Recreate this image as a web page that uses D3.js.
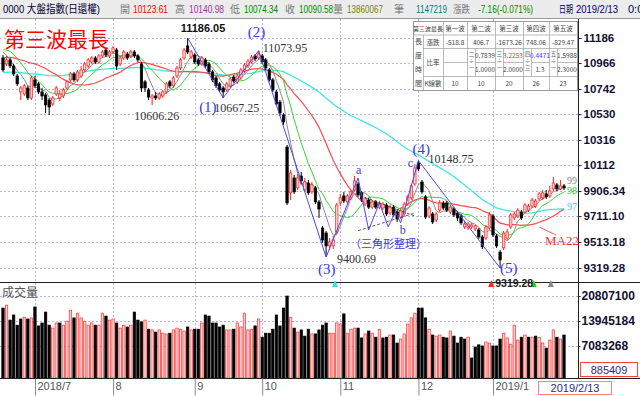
<!DOCTYPE html>
<html>
<head>
<meta charset="utf-8">
<script src="https://cdn.jsdelivr.net/npm/d3@7"></script>
<style>
body { margin: 0; background: #fff; }
svg { display: block; font-family: "Liberation Sans", "Noto Sans CJK TC", sans-serif; }
</style>
</head>
<body>
<svg id="chart" width="640" height="396"></svg>
<script>
// daily candles [open, high, low, close], 2018/6/19 .. 2019/1/30
var candles = [
  [11010,11036,10889,10906],[10958,11028,10940,10993],[10993,11010,10923,10940],[10940,10958,10854,10871],
  [10854,10871,10769,10786],[10717,10769,10649,10751],[10700,10786,10683,10769],[10751,10769,10649,10666],
  [10666,10854,10649,10837],[10820,10854,10751,10769],[10786,10803,10700,10717],[10717,10751,10649,10683],
  [10691,10708,10540,10607],[10649,10666,10523,10590],[10615,10683,10598,10666],[10700,10769,10683,10751],
  [10666,10734,10640,10700],[10683,10751,10666,10734],[10751,10820,10734,10803],[10820,10889,10803,10871],
  [10871,10889,10803,10820],[10820,10906,10803,10889],[10854,10940,10837,10906],[10906,10975,10889,10958],
  [10940,11010,10923,10993],[10975,11028,10958,11010],[11010,11028,10958,10975],[10975,11045,10958,11028],
  [11028,11080,11010,11063],[11080,11098,11019,11036],[11028,11080,11010,11063],[11063,11116,11045,11098],
  [11080,11098,10906,10940],[10958,11028,10940,11010],[11010,11080,10993,11063],[11045,11063,10993,11010],
  [11028,11080,11010,11063],[11063,11080,11010,11028],[11028,11045,10975,10993],[10958,10975,10717,10751],
  [10803,10820,10717,10751],[10734,10751,10649,10674],[10666,10700,10606.26,10683],[10683,10717,10649,10666],
  [10666,10717,10649,10700],[10683,10734,10666,10717],[10717,10803,10700,10786],[10803,10820,10751,10769],
  [10769,10854,10751,10837],[10854,10940,10837,10923],[10923,11010,10906,10993],[11010,11098,10993,11080],
  [11116,11186.05,11045,11063],[11019,11080,11001,11063],[11036,11054,10958,10975],[10993,11010,10940,10958],
  [10958,11028,10940,11010],[10993,11010,10923,10940],[10958,10975,10871,10889],[10889,10906,10803,10820],
  [10837,10854,10751,10769],[10786,10803,10717,10734],[10751,10769,10667.25,10717],[10734,10803,10717,10786],
  [10769,10845,10751,10828],[10845,10863,10794,10811],[10803,10871,10786,10854],[10837,10923,10820,10906],
  [10897,10966,10880,10949],[10940,11001,10923,10984],[10975,11036,10958,11019],[11028,11045,10984,11001],
  [11010,11073.95,10993,11045],[11028,11045,10958,10975],[10993,11010,10906,10923],[10906,10923,10803,10820],
  [10820,10837,10717,10734],[10717,10734,10598,10615],[10632,10649,10515,10540],[10523,10540,10440,10465],
  [10259,10275,9797,9813],[9892,10073,9836,10049],[10010,10033,9884,9900],[9931,10041,9915,10010],
  [10025,10057,9962,9986],[9915,10010,9900,9978],[9970,9994,9876,9892],[9900,9978,9884,9955],
  [9931,9947,9805,9821],[9821,9836,9697,9766],[9620,9636,9507,9529],[9582,9597,9400.69,9484],
  [9484,9544,9453,9514],[9484,9559,9461,9529],[9590,9813,9574,9797],[9813,9884,9789,9853],
  [9868,9900,9813,9829],[9821,9884,9805,9868],[9853,9915,9836,9900],[9915,10025,9900,9986],
  [9962,9978,9861,9876],[9892,9907,9821,9845],[9805,9861,9789,9845],[9836,9853,9766,9781],
  [9781,9836,9766,9821],[9821,9836,9766,9781],[9781,9829,9766,9813],[9774,9821,9758,9805],
  [9797,9813,9712,9728],[9735,9797,9720,9781],[9781,9797,9704,9720],[9743,9758,9666,9689],
  [9704,9766,9689,9751],[9728,9821,9712,9805],[9805,9876,9789,9861],[9853,9962,9836,9947],
  [9962,10122,9947,10090],[10130,10148.75,10065,10081],[9978,9994,9884,9900],[9861,9876,9689,9704],
  [9712,9789,9697,9774],[9728,9743,9651,9666],[9681,9743,9666,9728],[9758,9836,9743,9813],
  [9813,9829,9758,9774],[9813,9829,9743,9758],[9743,9797,9728,9781],[9766,9781,9704,9720],
  [9735,9751,9674,9697],[9712,9728,9643,9659],[9628,9674,9613,9651],[9620,9666,9605,9651],
  [9628,9659,9613,9643],[9613,9643,9597,9636],[9605,9620,9537,9552],[9552,9567,9461,9477],
  [9544,9643,9529,9628],[9620,9743,9605,9720],[9712,9728,9552,9567],[9559,9574,9469,9484],
  [9438,9453,9319.28,9379],[9469,9597,9453,9582],[9544,9613,9529,9590],[9628,9735,9613,9720],
  [9697,9743,9681,9728],[9712,9774,9697,9758],[9743,9758,9681,9697],[9743,9813,9728,9797],
  [9758,9805,9743,9789],[9789,9853,9774,9836],[9789,9845,9774,9829],[9845,9900,9829,9884],
  [9853,9915,9836,9892],[9884,9915,9845,9861],[9868,9947,9853,9907],[9923,10017,9907,9970],
  [9955,9970,9907,9923],[9923,9994,9915,9947],[9947,9962,9915,9931]
];

// volume, millions
var volumes = [
  17.5,18.3,14.2,15.6,12.8,14.5,15.0,14.5,14.8,17.8,12.6,13.4,16.4,12.8,12.0,13.4,13.4,12.8,13.9,16.9,
  14.8,16.1,14.8,13.9,12.8,13.4,12.8,12.8,16.1,15.3,14.2,14.5,13.4,12.0,12.8,12.3,12.8,16.4,14.2,13.7,
  14.2,11.7,11.5,10.9,11.5,10.6,10.4,10.6,11.5,12.0,11.7,11.2,12.3,11.5,11.7,11.7,13.4,15.6,15.3,13.4,
  13.4,12.3,12.8,11.5,11.5,11.7,13.4,12.3,16.1,11.5,11.7,12.6,14.5,9.5,10.6,10.6,11.7,15.6,12.6,17.5,
  20.8071,15.0,12.0,10.9,11.5,9.8,11.7,10.4,10.4,11.5,12.8,13.4,10.6,10.6,13.4,13.1,15.9,10.6,11.7,12.0,
  12.0,9.3,10.4,11.2,10.6,9.5,11.7,9.3,9.5,10.1,10.1,7.9,9.0,10.4,13.1,14.8,16.1,17.5,17.5,14.8,
  11.7,10.1,9.8,10.1,9.5,9.3,11.2,9.8,7.9,9.5,9.0,9.5,3.8,6.8,7.4,7.1,8.2,7.9,7.1,7.1,
  9.0,10.6,9.3,7.6,12.8,8.7,9.5,10.1,9.5,9.5,9.8,9.5,7.9,6.5,8.7,11.5,9.5,9.0,10.1
];

// closes before the first candle, only used to start the moving averages
var warmupCloses = [
  10950,10880,10820,10900,10960,11000,10950,10900,10880,10850,10870,10900,10840,10760,10700,10650,10580,10530,10560,10620,
  10660,10600,10540,10560,10650,10720,10800,10870,10920,10900,10950,10980,10960,11000,10940,10890,10900,10950,
  10900,10920,10960,10990,10950,10920,10960,10980,10940,10970,11000,10920,
  11000,11060,11130,11160,11150,11130,11150,11090,11030
];

var monthLabels = ["2018/7", "8", "9", "10", "11", "12", "2019/1"];
var monthStart = [9, 31, 54, 73, 95, 117, 138];

var priceTicks = [11186, 10966, 10742, 10530, 10316, 10112, 9906.34, 9711.10, 9513.18, 9319.28];
var priceTickLabels = ["11186", "10966", "10742", "10530", "10316", "10112", "9906.34", "9711.10", "9513.18", "9319.28"];
var volumeTicks = [20807100, 13945184, 7083268];

// wave count line [candle index, price]
var wavePath = [[52,11186.05],[62,10667.25],[72,11073.95],[91,9400.69],[100,10010],[103,9605],[106,9813],
  [108.5,9628],[110.5,9745],[112,9660],[117,10148.75],[140,9319.28]];
var triUpper = [[100.5,9870],[116,9712]];
var triLower = [[100,9600],[116,9735]];

// wave table
var waveNames = ["第一波", "第二波", "第三波", "第四波", "第五波"];
var waveChange = ["-518.8", "406.7", "-1673.26", "748.06", "-829.47"];
var priceRatio = ["", "0.7839", "3.2253", "0.4471", "1.5988"];
var countRatio = ["", "1.0000", "2.0000", "1.3", "2.3000"];
var ratioName = ["", "二÷一", "三÷一", "四÷三", "五÷一"];
var kCount = ["10", "10", "20", "26", "23"];

var header = [
  {x: 3, t: "0000 大盤指數(日還權)", c: "#000033", w: 97, s: 11},
  {x: 120, t: "開", c: "#777", s: 10}, {x: 133, t: "10123.61", c: "#ff0000", w: 35},
  {x: 175, t: "高", c: "#777", s: 10}, {x: 189, t: "10140.98", c: "#993399", w: 35},
  {x: 230, t: "低", c: "#777", s: 10}, {x: 244, t: "10074.34", c: "#008800", w: 34},
  {x: 285, t: "收", c: "#777", s: 10}, {x: 299, t: "10090.58", c: "#008800", w: 34},
  {x: 333, t: "量", c: "#777", s: 10}, {x: 347, t: "13860067", c: "#808000", w: 36},
  {x: 394, t: "筆", c: "#777", s: 10}, {x: 416, t: "1147219", c: "#008080", w: 31},
  {x: 453, t: "漲跌", c: "#777", w: 17, s: 10}, {x: 478, t: "-7.16(-0.071%)", c: "#008800", w: 55},
  {x: 559, t: "日期", c: "#000066", w: 14, s: 10}, {x: 576, t: "2019/2/13", c: "#000066", w: 42},
  {x: 628, t: "0:00", c: "#000066"}
];

var plotRight = 578, priceTop = 19, priceBottom = 282, volBottom = 378;

var svg = d3.select("#chart");

var x = d3.scaleLinear().domain([0, candles.length - 1]).range([3, 564]);
var y = d3.scaleLog().domain([9319.28, 11186.05]).range([268, 38]);
var vy = d3.scaleLinear().domain([7083268, 20807100]).range([346, 296]);

svg.append("rect").attr("width", 640).attr("height", 396).attr("fill", "#fff");

// header bar
svg.append("rect").attr("x", 0).attr("y", 0).attr("width", 640).attr("height", 18).attr("fill", "#ececec");
svg.append("line").attr("x1", 0).attr("x2", 640).attr("y1", 18.5).attr("y2", 18.5).attr("stroke", "#999");
svg.selectAll(".hd").data(header).enter().append("text")
    .attr("x", function(d) { return d.x; })
    .attr("y", 13)
    .attr("fill", function(d) { return d.c; })
    .attr("textLength", function(d) { return d.w || null; })
    .attr("lengthAdjust", "spacingAndGlyphs")
    .style("font-size", function(d) { return (d.s || 11) + "px"; })
    .text(function(d) { return d.t; });

var defs = svg.append("defs");
defs.append("clipPath").attr("id", "priceClip").append("rect")
    .attr("x", 0).attr("y", priceTop).attr("width", plotRight).attr("height", priceBottom - priceTop);

// grid
var gridColor = "#b4b4e6";
var grid = svg.append("g");
grid.selectAll(".hg").data(priceTicks).enter().append("line")
    .attr("x1", 0).attr("x2", plotRight)
    .attr("y1", function(d) { return Math.round(y(d)) + 0.5; })
    .attr("y2", function(d) { return Math.round(y(d)) + 0.5; })
    .attr("stroke", gridColor).attr("stroke-dasharray", "2,2");
grid.selectAll(".vg").data(volumeTicks).enter().append("line")
    .attr("x1", 0).attr("x2", plotRight)
    .attr("y1", function(d) { return Math.round(vy(d)) + 0.5; })
    .attr("y2", function(d) { return Math.round(vy(d)) + 0.5; })
    .attr("stroke", gridColor).attr("stroke-dasharray", "2,2");
grid.selectAll(".mg").data(monthStart).enter().append("line")
    .attr("x1", function(d) { return Math.round(x(d)) + 0.5; })
    .attr("x2", function(d) { return Math.round(x(d)) + 0.5; })
    .attr("y1", priceTop).attr("y2", volBottom)
    .attr("stroke", gridColor).attr("stroke-dasharray", "2,2");

// moving averages
var allCloses = warmupCloses.concat(candles.map(function(d) { return d[3]; }));
function movingAverage(n) {
  return candles.map(function(d, i) {
    var end = warmupCloses.length + i + 1;
    return d3.mean(allCloses.slice(end - n, end));
  });
}
var maLines = [
  {n: 60, color: "#3ee6e6", w: 1.3},
  {n: 22, color: "#ff4a4a", w: 1.2},
  {n: 10, color: "#33d633", w: 1},
  {n: 5, color: "#8c8c8c", w: 1}
];
var lineGen = d3.line().x(function(d, i) { return x(i); }).y(function(d) { return y(d); });
var maG = svg.append("g").attr("clip-path", "url(#priceClip)");
maLines.forEach(function(m) {
  maG.append("path").datum(movingAverage(m.n))
      .attr("d", lineGen)
      .attr("fill", "none")
      .attr("stroke", m.color)
      .attr("stroke-width", m.w);
});

// candles
var upColor = "#ff2020", downColor = "#000";
var cg = svg.append("g").attr("clip-path", "url(#priceClip)");
var candle = cg.selectAll(".candle").data(candles).enter().append("g");
candle.append("line")
    .attr("x1", function(d, i) { return x(i); })
    .attr("x2", function(d, i) { return x(i); })
    .attr("y1", function(d) { return y(d[1]); })
    .attr("y2", function(d) { return y(d[2]); })
    .attr("stroke", function(d) { return d[3] >= d[0] ? upColor : downColor; })
    .attr("stroke-width", 1);
candle.append("rect")
    .attr("x", function(d, i) { return x(i) - 1.2; })
    .attr("width", 2.4)
    .attr("y", function(d) { return y(Math.max(d[0], d[3])); })
    .attr("height", function(d) { return Math.max(1, Math.abs(y(d[0]) - y(d[3]))); })
    .attr("fill", function(d) { return d[3] >= d[0] ? "#ffd2d2" : downColor; })
    .attr("stroke", function(d) { return d[3] >= d[0] ? upColor : downColor; })
    .attr("stroke-width", 0.7);

// wave annotation
var ptLine = d3.line().x(function(d) { return x(d[0]); }).y(function(d) { return y(d[1]); });
var ann = svg.append("g").attr("clip-path", "url(#priceClip)");
ann.append("path").datum(wavePath).attr("d", ptLine)
    .attr("fill", "none").attr("stroke", "#4848f0").attr("stroke-width", 1);
[triUpper, triLower].forEach(function(t) {
  ann.append("path").datum(t).attr("d", ptLine)
      .attr("fill", "none").attr("stroke", "#333").attr("stroke-width", 0.8).attr("stroke-dasharray", "3,2");
});

// volume bars
function volUp(i) { return i === 0 ? candles[i][3] >= candles[i][0] : candles[i][3] >= candles[i - 1][3]; }
var vg = svg.append("g");
vg.selectAll(".vol").data(volumes).enter().append("rect")
    .attr("x", function(d, i) { return x(i) - 1.2; })
    .attr("width", 2.4)
    .attr("y", function(d) { return vy(d * 1e6); })
    .attr("height", function(d) { return volBottom - vy(d * 1e6); })
    .attr("fill", function(d, i) { return volUp(i) ? "#ffd2d2" : "#000"; })
    .attr("stroke", function(d, i) { return volUp(i) ? "#ff3030" : "#000"; })
    .attr("stroke-width", 0.7);

// panel frames
svg.append("line").attr("x1", 0).attr("x2", 640).attr("y1", priceBottom + 0.5).attr("y2", priceBottom + 0.5).attr("stroke", "#222");
svg.append("line").attr("x1", 0).attr("x2", 640).attr("y1", volBottom + 0.5).attr("y2", volBottom + 0.5).attr("stroke", "#222");
svg.append("line").attr("x1", plotRight + 0.5).attr("x2", plotRight + 0.5).attr("y1", priceTop).attr("y2", volBottom).attr("stroke", "#222");

// right axes
var pAxis = svg.append("g").attr("transform", "translate(" + (plotRight + 0.5) + ",0)")
    .call(d3.axisRight(y).tickValues(priceTicks).tickSize(3).tickPadding(2)
      .tickFormat(function(d, i) { return priceTickLabels[i]; }));
var vAxis = svg.append("g").attr("transform", "translate(" + (plotRight + 0.5) + ",0)")
    .call(d3.axisRight(vy).tickValues(volumeTicks).tickSize(2).tickPadding(1)
      .tickFormat(d3.format("d")));
[pAxis, vAxis].forEach(function(a) {
  a.select(".domain").remove();
  a.selectAll("line").attr("stroke", "#222");
  a.selectAll("text").attr("fill", "#111133")
      .style("font-family", "'Liberation Sans', sans-serif")
      .style("font-weight", "bold");
});
pAxis.selectAll("text").style("font-size", "11.5px");
vAxis.selectAll("text").style("font-size", "12px");

// date axis
var xAxis = svg.append("g").attr("transform", "translate(0," + (volBottom + 0.5) + ")")
    .call(d3.axisBottom(x).tickValues(monthStart).tickSize(17).tickPadding(0)
      .tickFormat(function(d, i) { return monthLabels[i]; }));
xAxis.select(".domain").remove();
xAxis.selectAll("line").attr("stroke", "#888");
xAxis.selectAll("text")
    .attr("text-anchor", "start").attr("x", 2).attr("y", 8).attr("dy", "0.32em")
    .attr("fill", "#555")
    .style("font-family", "'Liberation Sans', sans-serif")
    .style("font-size", "11px");

// readout boxes
svg.append("rect").attr("x", 538.5).attr("y", 381.5).attr("width", 73).attr("height", 13)
    .attr("fill", "#fff").attr("stroke", "#ff8080");
svg.append("text").attr("x", 575).attr("y", 392).attr("text-anchor", "middle")
    .attr("fill", "#2a2a8a").style("font-size", "11px").text("2019/2/13");
svg.append("rect").attr("x", 580.5).attr("y", 362.5).attr("width", 57).attr("height", 14)
    .attr("fill", "#fff").attr("stroke", "#ff4040");
svg.append("text").attr("x", 609).attr("y", 373.5).attr("text-anchor", "middle")
    .attr("fill", "#2a2a8a").style("font-size", "11px").text("885409");

svg.append("text").attr("x", 2).attr("y", 297).attr("fill", "#555")
    .style("font-size", "12px").style("font-family", "'Noto Sans CJK TC', sans-serif").text("成交量");

// titles and wave labels
svg.append("text").attr("x", 4).attr("y", 47).attr("fill", "#ff0000")
    .style("font-size", "21px").style("font-family", "'Noto Sans CJK TC', sans-serif").text("第三波最長");

var serif = "'Liberation Serif', 'Noto Sans CJK TC', serif";
function label(t, px, py, color, size, fam, weight) {
  svg.append("text").attr("x", px).attr("y", py).attr("fill", color)
      .style("font-size", size + "px").style("font-family", fam).style("font-weight", weight || "normal")
      .text(t);
}
label("11186.05", x(52) - 7, y(11186.05) - 6, "#111", 11, "'Liberation Sans', sans-serif", "bold");
label("(2)", x(72) - 11, y(11073.95) - 14, "#3a3ae0", 15, serif);
label("11073.95", x(72) + 4, y(11073.95) + 1, "#333", 12, serif);
label("10606.26", x(42) - 18, y(10606.26) + 15, "#333", 12, serif);
label("(1)", x(62) - 24, y(10667.25) + 14, "#3a3ae0", 15, serif);
label("10667.25", x(62) - 9, y(10667.25) + 14, "#333", 12, serif);
label("(3)", x(91) - 8, y(9400.69) + 17, "#3a3ae0", 15, serif);
label("9400.69", x(91) + 11, y(9400.69) + 6, "#333", 12, serif);
label("a", x(100) - 2, y(10010) - 4, "#3a3ae0", 12, serif);
label("b", x(112) - 1, y(9660) + 11, "#3a3ae0", 12, serif);
label("c", x(116.5) - 9, y(10148.75) + 6, "#3a3ae0", 12, serif);
label("(4)", x(117) - 6, y(10148.75) - 7, "#3a3ae0", 15, serif);
label("10148.75", x(117) + 10, y(10148.75) + 2, "#333", 12, serif);
label("(5)", x(140), y(9319.28) + 5, "#3a3ae0", 15, serif);
label("（三角形整理）", 350, 248, "#3a3ae0", 11, "'Noto Sans CJK TC', sans-serif");
label("MA22", 545, 245, "#ff3030", 13, serif);
svg.append("line").attr("x1", x(151)).attr("y1", 227).attr("x2", 556).attr("y2", 235)
    .attr("stroke", "#ff3030").attr("stroke-width", 0.8);
label("99", 567, 184, "#888", 10, serif);
label("98", 567, 194, "#33c033", 10, serif);
label("97", 567, 210, "#30d0e0", 10, serif);

// signal markers at the foot of the price panel
var markers = [{i: 93.5, c: "#30e0f0"}, {i: 137.5, c: "#ff2020"}, {i: 149.5, c: "#20d020"}, {i: 154.3, c: "#888"}];
svg.selectAll(".mk").data(markers).enter().append("path")
    .attr("d", function(d) { var cx = x(d.i); return "M" + (cx - 3) + ",287L" + (cx + 3) + ",287L" + cx + ",280Z"; })
    .attr("fill", function(d) { return d.c; });
label("9319.28", x(137.5) + 4, 287, "#222", 10.5, "'Liberation Sans', sans-serif", "bold");

// wave table
var tx = [413, 423, 443, 467, 495, 523, 549, 577];
var ty = [21, 34.5, 48, 62, 76, 90];
var tb = svg.append("g");
tb.append("rect").attr("x", tx[0] + 0.5).attr("y", ty[0] + 0.5).attr("width", tx[7] - tx[0]).attr("height", ty[5] - ty[0])
    .attr("fill", "#fff").attr("stroke", "#999");
function tl(x1, y1, x2, y2) {
  tb.append("line").attr("x1", x1 + 0.5).attr("y1", y1 + 0.5).attr("x2", x2 + 0.5).attr("y2", y2 + 0.5)
      .attr("stroke", "#aaa").attr("stroke-width", 0.8);
}
tl(tx[0], ty[1], tx[7], ty[1]);
tl(tx[1], ty[2], tx[7], ty[2]);
tl(tx[1], ty[4], tx[7], ty[4]);
tl(tx[1], ty[1], tx[1], ty[5]);
for (var k = 2; k < 7; k++) tl(tx[k], ty[0], tx[k], ty[5]);
tl(tx[2], ty[3], tx[3], ty[3]);
for (k = 3; k < 7; k++) {
  tl(tx[k] + 8, ty[2], tx[k] + 8, ty[4]);
  tl(tx[k] + 8, ty[3], tx[k + 1], ty[3]);
}
function tt(t, cx, cy, color, size) {
  return tb.append("text").attr("x", cx).attr("y", cy).attr("text-anchor", "middle")
      .attr("fill", color || "#444").style("font-size", (size || 7) + "px")
      .style("font-family", "'Noto Sans CJK TC', sans-serif").text(t);
}
var h0 = tt("", (tx[0] + tx[2]) / 2, 31, "#444", 6);
h0.append("tspan").text("第");
h0.append("tspan").attr("fill", "#ff2020").text("三");
h0.append("tspan").text("波最長");
tt("漲跌", (tx[1] + tx[2]) / 2, 44.5, "#444", 6.5);
tt("比率", (tx[1] + tx[2]) / 2, 65, "#444", 6.5);
tt("K線數", (tx[1] + tx[2]) / 2, 86, "#444", 6.5);
["長", "度", "時", "間"].forEach(function(c, j) { tt(c, (tx[0] + tx[1]) / 2 + 0.5, 44 + j * 14, "#444", 7); });
waveNames.forEach(function(n, j) {
  var c0 = tx[j + 2], c1 = tx[j + 3];
  tt(n, (c0 + c1) / 2, 31, "#444", 6.5);
  tt(waveChange[j], (c0 + c1) / 2, 44.5, "#444", 6.5);
  tt(kCount[j], (c0 + c1) / 2, 86, "#444", 6.5);
  if (j > 0) {
    var vc = (c0 + 8 + c1) / 2;
    var rc = j === 2 ? "#ff3030" : (j === 3 ? "#4040ff" : "#444");
    tt(priceRatio[j], vc, 58, rc, 6.5);
    tt(countRatio[j], vc, 72, "#444", 6.5);
    ratioName[j].split("").forEach(function(c, q) { tt(c, c0 + 4.5, 56 + q * 7, "#666", 5.5); });
  }
});
</script>
</body>
</html>
